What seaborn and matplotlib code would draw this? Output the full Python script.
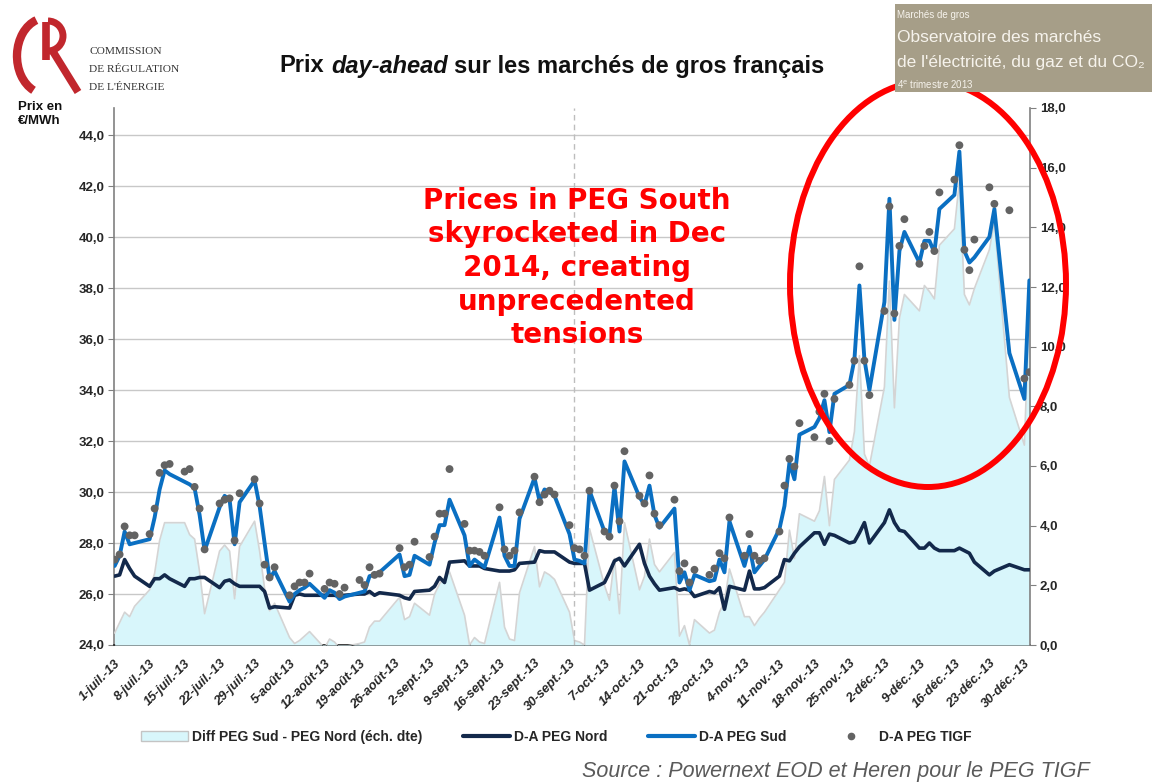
import numpy as np
import pandas as pd
import matplotlib
matplotlib.use("Agg")
import matplotlib.pyplot as plt
from matplotlib.patches import Ellipse, Arc, Rectangle, Patch
from matplotlib.lines import Line2D
import seaborn as sns

# trading days, counted in days from 1 July 2013 (weekdays, holidays missing)
day_offsets = [
    0, 1, 2, 3, 4,
    7, 8, 9, 10, 11,
    14, 15, 16, 17, 18,
    21, 22, 23, 24, 25,
    28, 29, 30, 31, 32,
    35, 36, 37, 38, 39,
    42, 43, 44, 45, 46,
    49, 50, 51, 52, 53,
    57, 58, 59, 60,
    63, 64, 65, 66, 67,
    70, 71, 72, 73, 74,
    77, 78, 79, 80, 81,
    84, 85, 86, 87, 88,
    91, 92, 93, 94, 95,
    98, 99, 100, 101, 102,
    105, 106, 107, 108, 109,
    112, 113, 114, 115, 116,
    119, 120, 121, 122, 123,
    126, 127, 128, 129, 130,
    133, 134, 135, 136, 137,
    140, 141, 142, 143, 144,
    147, 148, 149, 150, 151,
    154, 155, 156, 157, 158,
    161, 162, 163, 164, 165,
    168, 169, 170, 171, 172,
    175, 176, 179, 182, 183,
]

# D-A PEG Sud (EUR/MWh)
peg_sud = [
    27.1, 27.5, 28.45, 27.95, 28.0,
    28.15, 29.0, 30.1, 30.85, 30.7,
    30.4, 30.3, 30.15, 29.1, 27.7,
    29.4, 29.85, 29.7, 27.95, 29.6,
    30.45, 29.45, 28.0, 26.6, 26.9,
    25.7, 26.0, 26.15, 26.25, 26.4,
    25.85, 26.15, 26.05, 25.8, 25.9,
    26.05, 26.1, 26.7, 26.75, 26.85,
    27.55, 26.7, 26.75, 27.5,
    27.15, 28.0, 28.7, 28.7, 29.7,
    28.3, 27.1, 27.35, 27.2, 27.05,
    29.0, 27.5, 27.1, 27.1, 28.95,
    30.55, 29.65, 30.1, 30.0, 29.85,
    28.35, 27.35, 27.3, 27.2, 30.05,
    28.45, 28.35, 30.2, 28.45, 31.2,
    29.8, 29.5, 30.25, 29.1, 28.6,
    29.35, 26.45, 26.85, 26.15, 26.75,
    26.5, 26.55, 27.35, 26.85, 28.85,
    27.1, 27.85, 26.85, 27.1, 27.35,
    28.55, 29.45, 31.15, 30.5, 32.25,
    32.55, 32.9, 33.6, 32.35, 33.85,
    34.2, 35.2, 38.1, 35.2, 34.0,
    37.45, 41.5, 36.75, 39.45, 40.2,
    39.0, 39.85, 39.85, 39.4, 41.1,
    41.65, 43.35, 39.45, 39.0, 39.2,
    40.0, 41.1, 35.45, 33.65, 38.3,
]

# D-A PEG Nord (EUR/MWh)
peg_nord = [
    26.7, 26.75, 27.35, 27.0, 26.7,
    26.3, 26.6, 26.6, 26.75, 26.6,
    26.3, 26.6, 26.6, 26.65, 26.65,
    26.25, 26.5, 26.55, 26.4, 26.3,
    26.3, 26.3, 26.1, 25.45, 25.5,
    25.45, 25.95, 26.0, 25.95, 25.95,
    25.95, 25.95, 25.95, 25.9, 25.95,
    26.0, 26.0, 26.1, 25.95, 26.05,
    25.95, 25.85, 25.8, 26.1,
    26.15, 26.3, 26.65, 26.45, 27.25,
    27.3, 27.1, 27.1, 27.1, 27.0,
    26.9, 26.9, 26.9, 26.95, 27.2,
    27.25, 27.7, 27.65, 27.65, 27.65,
    27.25, 27.2, 27.2, 27.2, 26.15,
    26.45, 26.85, 27.3, 27.4, 27.1,
    27.95, 27.2, 26.7, 26.4, 26.15,
    26.25, 26.15, 26.2, 26.15, 25.9,
    26.1, 26.05, 26.25, 25.4, 26.3,
    26.15, 26.9, 26.2, 26.2, 26.25,
    26.7, 27.35, 27.3, 27.6, 27.85,
    28.4, 28.4, 27.95, 28.35, 28.3,
    28.0, 28.05, 28.4, 28.8, 28.0,
    28.8, 29.3, 28.8, 28.5, 28.45,
    27.8, 27.8, 28.0, 27.8, 27.7,
    27.7, 27.8, 27.7, 27.6, 27.25,
    26.75, 26.9, 27.15, 26.95, 26.95,
]

# D-A PEG TIGF (EUR/MWh)
peg_tigf = [
    27.35, 27.55, 28.65, 28.3, 28.3,
    28.35, 29.35, 30.75, 31.05, 31.1,
    30.8, 30.9, 30.2, 29.35, 27.75,
    29.55, 29.7, 29.75, 28.1, 29.95,
    30.5, 29.55, 27.15, 26.65, 27.05,
    25.95, 26.3, 26.45, 26.45, 26.8,
    26.2, 26.45, 26.4, 26.0, 26.25,
    26.55, 26.35, 27.05, 26.75, 26.8,
    27.8, 27.05, 27.15, 28.05,
    27.45, 28.25, 29.15, 29.15, 30.9,
    28.75, 27.7, 27.7, 27.65, 27.5,
    29.4, 27.75, 27.5, 27.7, 29.2,
    30.6, 29.6, 29.9, 30.05, 29.9,
    28.7, 27.8, 27.75, 27.5, 30.05,
    28.45, 28.25, 30.25, 28.85, 31.6,
    29.85, 29.55, 30.65, 29.15, 28.7,
    29.7, 26.9, 27.2, 26.45, 26.95,
    26.75, 27.0, 27.6, 27.4, 29.0,
    27.5, 28.35, 27.5, 27.3, 27.4,
    28.45, 30.25, 31.3, 31.0, 32.7,
    32.15, 33.15, 33.85, 32.0, 33.65,
    34.2, 35.15, 38.85, 35.15, 33.8,
    37.1, 41.2, 37.0, 39.65, 40.7,
    38.95, 39.65, 40.2, 39.45, 41.75,
    42.25, 43.6, 39.5, 38.7, 39.9,
    41.95, 41.3, 41.05, 34.45, 34.7,
]

# Diff PEG Sud - PEG Nord (right axis)
diff_sud_nord = [
    0.4, 0.75, 1.1, 0.95, 1.3,
    1.85, 2.4, 3.5, 4.1, 4.1,
    4.1, 3.7, 3.55, 2.45, 1.05,
    3.15, 3.35, 3.15, 1.55, 3.3,
    4.15, 3.15, 1.9, 1.15, 1.4,
    0.25, 0.05, 0.15, 0.3, 0.45,
    -0.1, 0.2, 0.1, -0.1, -0.05,
    0.05, 0.1, 0.6, 0.8, 0.8,
    1.6, 0.85, 0.95, 1.4,
    1.0, 1.7, 2.05, 2.25, 2.45,
    1.0, 0.0, 0.25, 0.1, 0.05,
    2.1, 0.6, 0.2, 0.15, 1.75,
    3.3, 1.95, 2.45, 2.35, 2.2,
    1.1, 0.15, 0.1, 0.0, 3.9,
    2.0, 1.5, 2.9, 1.05, 4.1,
    1.85, 2.3, 3.55, 2.7, 2.45,
    3.1, 0.3, 0.65, 0.0, 0.85,
    0.4, 0.5, 1.1, 1.45, 2.55,
    0.95, 0.95, 0.65, 0.9, 1.1,
    1.85, 2.1, 3.85, 2.9, 4.4,
    4.15, 4.5, 5.65, 4.0, 5.55,
    6.2, 7.15, 9.7, 6.4, 6.0,
    8.65, 12.2, 7.95, 10.95, 11.75,
    11.2, 12.05, 11.85, 11.6, 13.4,
    13.95, 15.55, 11.75, 11.4, 11.95,
    13.25, 14.2, 8.3, 6.7, 11.35,
]

tick_labels = [
    "1-juil.-13", "8-juil.-13", "15-juil.-13", "22-juil.-13", "29-juil.-13",
    "5-août-13", "12-août-13", "19-août-13", "26-août-13", "2-sept.-13",
    "9-sept.-13", "16-sept.-13", "23-sept.-13", "30-sept.-13", "7-oct.-13",
    "14-oct.-13", "21-oct.-13", "28-oct.-13", "4-nov.-13", "11-nov.-13",
    "18-nov.-13", "25-nov.-13", "2-déc.-13", "9-déc.-13", "16-déc.-13",
    "23-déc.-13", "30-déc.-13",
]

W, H = 1152, 783
C_SUD = "#0a6fc2"
C_NORD = "#13294b"
C_TIGF = "#636363"
C_AREA = "#d8f6fb"
TXT = "#262626"


def fx(px):
    return px / W


def fy(py):
    return 1 - py / H


def main():
    sns.set_style("white")
    plt.rcParams["font.family"] = ["Liberation Sans", "DejaVu Sans"]

    start = pd.Timestamp("2013-07-01")
    df = pd.DataFrame({
        "date": start + pd.to_timedelta(day_offsets, unit="D"),
        "sud": peg_sud,
        "nord": peg_nord,
        "tigf": peg_tigf,
        "diff": diff_sud_nord,
    })

    fig = plt.figure(figsize=(W / 100, H / 100), dpi=100)
    ax = fig.add_axes([fx(114), fy(645), fx(1030) - fx(114), fy(108) - fy(645)])
    ax2 = ax.twinx()
    ax3 = fig.add_axes(ax.get_position(), sharex=ax, sharey=ax)
    ax.set_zorder(0)
    ax2.set_zorder(1)
    ax3.set_zorder(2)
    ax2.patch.set_visible(False)
    ax3.set_axis_off()

    # area on the right axis
    ax2.fill_between(df["date"], df["diff"], 0, color=C_AREA, lw=0)
    ax2.plot(df["date"], df["diff"], color="#d4d4d4", lw=1.2)

    # price series
    ax3.axvline(pd.Timestamp("2013-10-01"), color="#bdbdbd", lw=1, ls=(0, (4, 3)), zorder=1)
    sns.lineplot(data=df, x="date", y="nord", ax=ax3, color=C_NORD, lw=2.6, estimator=None, zorder=3)
    sns.lineplot(data=df, x="date", y="sud", ax=ax3, color=C_SUD, lw=2.8, estimator=None, zorder=4)
    sns.scatterplot(data=df, x="date", y="tigf", ax=ax3, color=C_TIGF, s=32, edgecolor="none", zorder=5)

    ax.set_xlim(start - pd.Timedelta(hours=3), pd.Timestamp("2013-12-31") + pd.Timedelta(hours=3))
    ax.set_ylim(24, 45.06)
    ax2.set_ylim(0, 18)

    ticks = pd.date_range("2013-07-01", "2013-12-30", freq="7D")
    ax.set_xticks(ticks)
    ax.set_xticklabels(tick_labels, rotation=45, ha="right", rotation_mode="anchor",
                       fontsize=9.3, fontweight="bold", style="italic", color=TXT)
    yl = np.arange(24, 44.1, 2)
    ax.set_yticks(yl)
    ax.set_yticklabels([f"{v:.1f}".replace(".", ",") for v in yl], fontsize=9.5,
                       fontweight="bold", color=TXT)
    yr = np.arange(0, 18.1, 2)
    ax2.set_yticks(yr)
    ax2.set_yticklabels([f"{v:.1f}".replace(".", ",") for v in yr], fontsize=9.5,
                        fontweight="bold", color=TXT)
    ax.set_xlabel("")
    ax.set_ylabel("")

    ax.yaxis.grid(True, color="#c8c8c8", lw=1)
    ax.xaxis.grid(False)
    ax.set_axisbelow(True)
    for s in ["top", "right"]:
        ax.spines[s].set_visible(False)
    ax.spines["left"].set_color("#808080")
    ax.spines["left"].set_linewidth(1.2)
    ax.spines["bottom"].set_color("#303030")
    ax.spines["bottom"].set_linewidth(1.3)
    for s in ["top", "left", "bottom"]:
        ax2.spines[s].set_visible(False)
    ax2.spines["right"].set_color("#808080")
    ax2.spines["right"].set_linewidth(1.2)
    ax.tick_params(axis="y", direction="out", length=4, color="#808080", pad=3)
    ax.tick_params(axis="x", direction="out", length=5, color="#303030", pad=4)
    ax2.tick_params(axis="y", direction="out", length=4, color="#808080", pad=3)

    # annotation
    fig.text(fx(577), fy(268), "Prices in PEG South\nskyrocketed in Dec\n2014, creating\nunprecedented\ntensions",
             ha="center", va="center", color="#ff0000", fontsize=20, fontweight="bold",
             family="DejaVu Sans", linespacing=1.25, zorder=20)

    # overlay for decorations in pixel coordinates
    deco = fig.add_axes([0, 0, 1, 1], zorder=10)
    deco.set_xlim(0, W)
    deco.set_ylim(H, 0)
    deco.set_axis_off()
    deco.add_patch(Ellipse((928, 284), 276, 406, fill=False, ec="#ff0000", lw=4.3))

    # CRE logo
    red = "#c1272d"
    deco.add_patch(Arc((46, 56), 58, 76, theta1=110, theta2=255, ec=red, lw=6))
    deco.plot([46, 46], [22, 60], color=red, lw=5.5, solid_capstyle="butt")
    deco.add_patch(Arc((48, 36), 30, 30, theta1=-90, theta2=90, ec=red, lw=5))
    deco.plot([52, 78], [50, 92], color=red, lw=5.5, solid_capstyle="butt")
    for i, line in enumerate(["COMMISSION", "DE RÉGULATION", "DE L'ÉNERGIE"]):
        fig.text(fx(89), fy(52 + 18 * i), line, fontsize=8.2, family="Liberation Serif",
                 color="#333333", va="center", ha="left")

    # observatoire box
    deco.add_patch(Rectangle((895, 4), W - 895, 88, color="#a69e88", lw=0))
    cream = "#f6f3ec"
    fig.text(fx(897), fy(15), "Marchés de gros", fontsize=7, color=cream, va="center", zorder=11)
    fig.text(fx(897), fy(38), "Observatoire des marchés", fontsize=12.5, color=cream, va="center", zorder=11)
    fig.text(fx(897), fy(62), "de l'électricité, du gaz et du CO₂", fontsize=12.5, color=cream,
             va="center", zorder=11)
    fig.text(fx(897), fy(85), r"4$^{\rm e}$ trimestre 2013", fontsize=7, color=cream, va="center", zorder=11)

    # title with italic part
    renderer = fig.canvas.get_renderer()
    tsize = 17
    parts = [("Prix", "normal"), ("day-ahead", "italic"), ("sur les marchés de gros français", "normal")]
    texts = [fig.text(0, fy(66), s, fontsize=tsize, style=st, fontweight="bold", va="center",
                      ha="left", color="#111111")
             for s, st in parts]
    widths = [t.get_window_extent(renderer).width for t in texts]
    gap = tsize * 0.28 * 100 / 72
    x = 552 - (sum(widths) + gap * (len(texts) - 1)) / 2
    for t, w in zip(texts, widths):
        t.set_x(fx(x))
        x += w + gap

    fig.text(fx(18), fy(114), "Prix en\n€/MWh", fontsize=9.5, fontweight="bold", color="#111111",
             va="center", ha="left", linespacing=1.15)

    # legend
    handles = [
        Patch(facecolor=C_AREA, edgecolor="#c4c4c4", lw=1),
        Line2D([], [], color=C_NORD, lw=3),
        Line2D([], [], color=C_SUD, lw=3),
        Line2D([], [], color=C_TIGF, marker="o", ls="none", markersize=4.5),
    ]
    labels = ["Diff PEG Sud - PEG Nord (éch. dte)", "D-A PEG Nord", "D-A PEG Sud", "D-A PEG TIGF"]
    fig.legend(handles, labels, loc="center", bbox_to_anchor=(fx(556), fy(737)), ncol=4,
               frameon=False, prop={"size": 10, "weight": "bold"}, handlelength=3.4,
               columnspacing=2.9, handletextpad=0.3)

    fig.text(fx(1090), fy(772), "Source : Powernext EOD et Heren pour le PEG TIGF", fontsize=15.5,
             style="italic", color="#5a5a5a", ha="right", va="center")

    fig.savefig("out.png", dpi=100)
    plt.close(fig)


if __name__ == "__main__":
    main()
